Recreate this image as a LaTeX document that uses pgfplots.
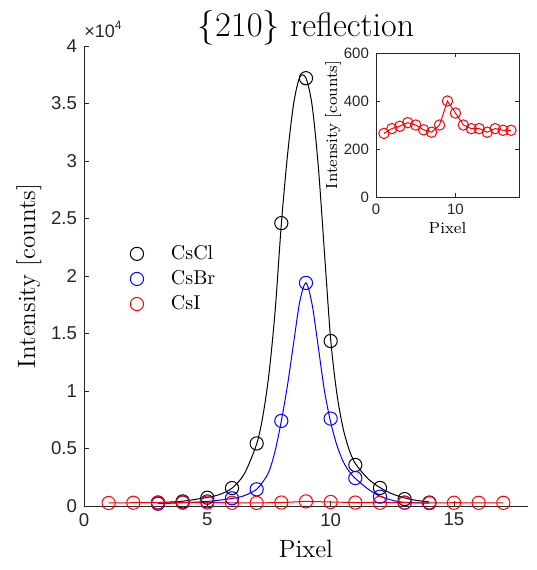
\documentclass[border=0pt]{standalone}
\usepackage{fontspec}
\setsansfont{Liberation Sans}
\usepackage{pgfplots}
\pgfplotsset{compat=1.18}

% fitted curves and measured points (pixel, counts)
\pgfplotstableread{
x y
3 300
4 420
5 750
5.5 1000
6 1550
6.5 2800
7 5400
7.25 7800
7.5 11500
7.75 17000
8 24500
8.25 30500
8.5 35000
8.75 37300
9 37200
9.25 34800
9.5 29500
9.75 22000
10 14500
10.25 9800
10.5 6800
10.75 4900
11 3700
11.5 2400
12 1600
12.5 1050
13 700
13.5 480
14 350
}\fitCl
\pgfplotstableread{
x y
3 200
4 280
5 400
6 650
6.5 900
7 1450
7.25 2100
7.5 3000
7.75 4800
8 7400
8.25 10500
8.5 14200
8.75 17800
9 19400
9.25 17500
9.5 13800
9.75 10000
10 7300
10.25 5300
10.5 3900
10.75 3000
11 2400
11.5 1500
12 850
12.5 500
13 320
14 250
}\fitBr
\pgfplotstableread{
x y
3 300
4 400
5 720
6 1560
7 5440
8 24600
9 37200
10 14350
11 3570
12 1570
13 600
14 300
}\ptsCl
\pgfplotstableread{
x y
3 200
4 300
5 400
6 670
7 1450
8 7400
9 19400
10 7600
11 2430
12 810
13 300
14 250
}\ptsBr
\pgfplotstableread{
x y
1 265
2 285
3 295
4 310
5 300
6 280
7 270
8 300
9 400
10 350
11 300
12 285
13 285
14 270
15 285
16 278
17 278
}\ptsI

\begin{document}
\begin{tikzpicture}
\begin{axis}[
    name=main,
    at={(0pt,0pt)}, anchor=south west,
    scale only axis,
    width=222pt, height=230pt,
    xmin=0, xmax=18, ymin=0, ymax=40000,
    xtick={0,5,10,15},
    xticklabels={0,5,10,15},
    ytick={0,5000,10000,15000,20000,25000,30000,35000,40000},
    yticklabels={0,0.5,1,1.5,2,2.5,3,3.5,4},
    scaled y ticks=false,
    axis lines*=left,
    axis line style={black!85, line width=0.4pt},
    tick align=inside,
    major tick length=2.5pt,
    tick style={black!85, line width=0.4pt},
    tick label style={font=\sffamily\fontsize{9.3}{10}\selectfont, text=black!85},
    xlabel={Pixel}, ylabel={Intensity [counts]},
    label style={font=\fontsize{12.5}{14}\selectfont},
    ylabel style={yshift=-2pt},
    title={$\{210\}$ reflection},
    title style={font=\fontsize{17}{19}\selectfont, yshift=-9pt},
    legend style={draw=none, fill=none, at={(rel axis cs:0.09,0.585)}, anchor=north west,
        font=\fontsize{10}{11}\selectfont, row sep=0pt},
    legend cell align=left,
    legend image code/.code={
        \draw[#1] plot coordinates {(0pt,0pt)};
        \path[draw=none, fill=none] (0pt,0pt) rectangle (15pt,0.1pt);
    },
    after end axis/.code={
        \node[anchor=south west, inner sep=0pt, text=black!85, font=\sffamily\fontsize{9}{10}\selectfont]
            at ([yshift=4pt]rel axis cs:0,1) {×10\textsuperscript{4}};
    },
]
\addplot[black, line width=0.5pt, smooth, forget plot] table {\fitCl};
\addplot[blue, line width=0.5pt, smooth, forget plot] table {\fitBr};
\addplot[red, line width=0.5pt, forget plot] table {\ptsI};
\addplot[black, only marks, mark=o, mark size=3.3pt, mark options={line width=0.5pt}] table {\ptsCl};
\addplot[blue, only marks, mark=o, mark size=3.3pt, mark options={line width=0.5pt}] table {\ptsBr};
\addplot[red, only marks, mark=o, mark size=3.3pt, mark options={line width=0.5pt}] table {\ptsI};
\legend{CsCl, CsBr, CsI}
\end{axis}

\begin{axis}[
    at={(146pt,154.5pt)}, anchor=south west,
    scale only axis,
    width=71.5pt, height=72pt,
    xmin=0, xmax=18, ymin=0, ymax=600,
    xtick={0,10}, xticklabels={0,10},
    ytick={0,200,400,600}, yticklabels={0,200,400,600},
    axis line style={black!85, line width=0.4pt},
    tick align=inside,
    major tick length=1.8pt,
    tick style={black!85, line width=0.4pt},
    axis background/.style={fill=white},
    tick label style={font=\sffamily\fontsize{7.5}{8}\selectfont, text=black!85},
    xlabel={Pixel}, ylabel={Intensity [counts]},
    label style={font=\fontsize{8}{9}\selectfont},
    xlabel style={yshift=3pt},
    ylabel style={yshift=-5.5pt},
]
\addplot[red, line width=0.5pt, mark=o, mark size=2.6pt, mark options={line width=0.5pt}] table {\ptsI};
\end{axis}

\pgfresetboundingbox
\useasboundingbox (-42pt,-32pt) rectangle (226.5pt,253pt);
\end{tikzpicture}
\end{document}
